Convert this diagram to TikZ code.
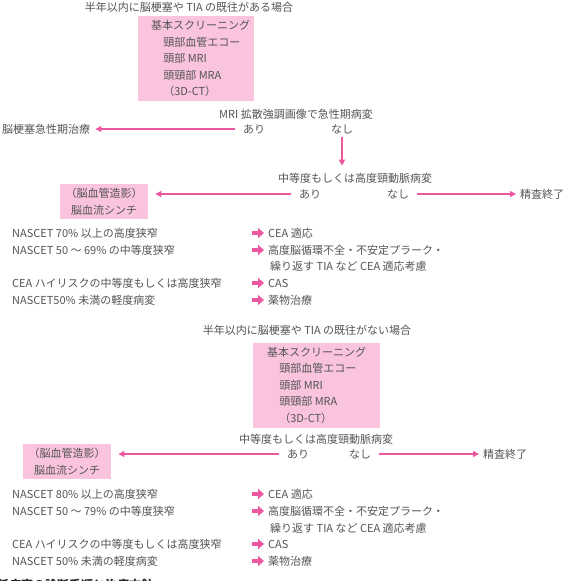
\documentclass[tikz,border=0pt]{standalone}
\usepackage{fontspec}
\setmainfont{Noto Sans CJK JP}
\usetikzlibrary{arrows.meta}
\definecolor{txt}{RGB}{84,84,84}
\definecolor{pinkline}{RGB}{236,88,160}
\definecolor{pinkbox}{RGB}{250,196,222}

\tikzset{
  every node/.style={font=\fontsize{11}{16.5}\selectfont, text=txt, inner sep=0pt},
  lbl/.style={anchor=west},
  ctr/.style={anchor=center},
  flow/.style={draw=pinkline, line width=1.1pt, -{Triangle[length=6pt,width=6pt]}},
  thick arrow/.style={draw=pinkline, line width=4pt, -{Triangle[length=6pt,width=10pt]}},
  screenbox/.style={fill=pinkbox, minimum width=#1, minimum height=85pt, anchor=north west},
  screentext/.style={align=left, anchor=north west},
  imagebox/.style={fill=pinkbox, align=center, anchor=north west, minimum width=88, inner ysep=4pt},
  caption/.style={anchor=west, font=\fontsize{12}{14}\bfseries\selectfont, text=black!85},
}

\begin{document}
\begin{tikzpicture}[x=1pt,y=-1pt]
\useasboundingbox (0,0) rectangle (564,581);
\clip (0,0) rectangle (564,581);

% ---------- with a recent infarct or TIA ----------
\node[ctr] (head1) at (189,7) {半年以内に脳梗塞や TIA の既往がある場合};
\node[screenbox=116pt] (scr1) at (138,16) {};
\node[screentext] (scr1txt) at ([xshift=13pt,yshift=-4.5pt]scr1.north west) {基本スクリーニング\\
  \hspace{1.1em}頸部血管エコー\\
  \hspace{1.1em}頭部 MRI\\
  \hspace{1.1em}頭頸部 MRA\\
  \hspace{1.1em}（3D-CT）};

\node[ctr] (dwi) at (296,114) {MRI 拡散強調画像で急性期病変};
\node[ctr] (dwiyes) at (254,129) {あり};
\node[ctr] (dwino) at (342,129) {なし};
\node[lbl] (acute) at (2,129) {脳梗塞急性期治療};
\draw[flow] ([xshift=-8pt]dwiyes.west) -- ([xshift=5pt]acute.east);

\node[ctr] (car1) at (355,178) {中等度もしくは高度頸動脈病変};
\draw[flow] ([yshift=-3pt]dwino.south) -- ([yshift=7pt]dwino.south |- car1.north);
\node[ctr] (car1yes) at (310,194) {あり};
\node[ctr] (car1no) at (398,194) {なし};
\node[lbl] (end1) at (520,194) {精査終了};
\node[imagebox] (img1) at (60,184) {（脳血管造影）\\脳血流シンチ};
\draw[flow] ([xshift=-8pt]car1yes.west) -- ([xshift=7pt]img1.east |- car1yes);
\draw[flow] ([xshift=8pt]car1no.east) -- ([xshift=-4pt]end1.west);

\node[lbl] (s1a) at (12,233) {NASCET 70\% 以上の高度狭窄};
\node[lbl] (s1b) at (12,250) {NASCET 50 ～ 69\% の中等度狭窄};
\node[lbl] (s1c) at (12,283) {CEA ハイリスクの中等度もしくは高度狭窄};
\node[lbl] (s1d) at (12,300) {NASCET50\% 未満の軽度病変};
\node[lbl] (t1a) at (268,233) {CEA 適応};
\node[lbl] (t1b) at (268,250) {高度脳循環不全・不安定プラーク・};
\node[lbl] (t1b2) at (270,266) {繰り返す TIA など CEA 適応考慮};
\node[lbl] (t1c) at (268,283) {CAS};
\node[lbl] (t1d) at (268,300) {薬物治療};
\foreach \k in {a,b,c,d}{
  \draw[thick arrow] ([xshift=-16pt]t1\k.west) -- ([xshift=-4pt]t1\k.west);
}

% ---------- without a recent infarct or TIA ----------
\node[ctr] (head2) at (307,330) {半年以内に脳梗塞や TIA の既往がない場合};
\node[screenbox=127pt] (scr2) at (253,343) {};
\node[screentext] (scr2txt) at ([xshift=14pt,yshift=-4pt]scr2.north west) {基本スクリーニング\\
  \hspace{1.1em}頸部血管エコー\\
  \hspace{1.1em}頭部 MRI\\
  \hspace{1.1em}頭頸部 MRA\\
  \hspace{1.1em}（3D-CT）};

\node[ctr] (car2) at (316,439) {中等度もしくは高度頸動脈病変};
\node[ctr] (car2yes) at (298,454) {あり};
\node[ctr] (car2no) at (360,454) {なし};
\node[lbl] (end2) at (483,454) {精査終了};
\node[imagebox] (img2) at (23,444) {（脳血管造影）\\脳血流シンチ};
\draw[flow] ([xshift=-8pt]car2yes.west) -- ([xshift=7pt]img2.east |- car2yes);
\draw[flow] ([xshift=8pt]car2no.east) -- ([xshift=-4pt]end2.west);

\node[lbl] (s2a) at (12,494) {NASCET 80\% 以上の高度狭窄};
\node[lbl] (s2b) at (12,511) {NASCET 50 ～ 79\% の中等度狭窄};
\node[lbl] (s2c) at (12,544) {CEA ハイリスクの中等度もしくは高度狭窄};
\node[lbl] (s2d) at (12,561) {NASCET 50\% 未満の軽度病変};
\node[lbl] (t2a) at (268,494) {CEA 適応};
\node[lbl] (t2b) at (268,511) {高度脳循環不全・不安定プラーク・};
\node[lbl] (t2b2) at (270,528) {繰り返す TIA など CEA 適応考慮};
\node[lbl] (t2c) at (268,544) {CAS};
\node[lbl] (t2d) at (268,561) {薬物治療};
\foreach \k in {a,b,c,d}{
  \draw[thick arrow] ([xshift=-16pt]t2\k.west) -- ([xshift=-4pt]t2\k.west);
}

\node[caption] (cap) at (-3,585) {脈病変の診断手順と治療方針};
\end{tikzpicture}
\end{document}
